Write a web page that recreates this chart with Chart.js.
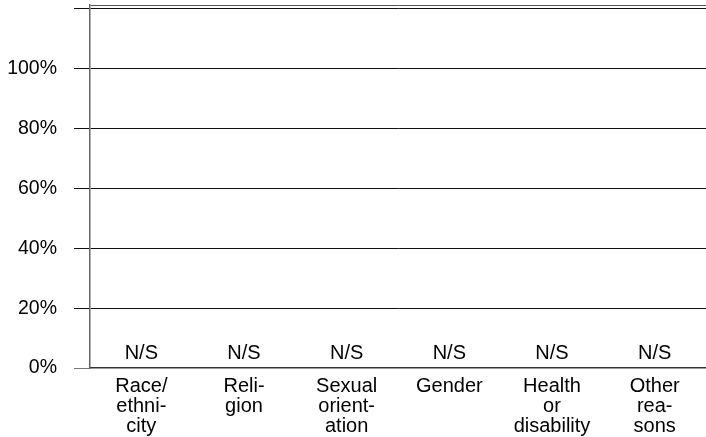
<!DOCTYPE html>
<html>
<head>
<meta charset="utf-8">
<script src="https://cdn.jsdelivr.net/npm/chart.js@4/dist/chart.umd.min.js"></script>
<style>
    html, body { margin: 0; padding: 0; background: #fff; }
    #wrap { width: 706px; height: 437px; position: relative; }
</style>
</head>
<body>
<div id="wrap"><canvas id="chart"></canvas></div>
<script>
// Chart data
const categories = [
    ['Race/', 'ethni-', 'city'],
    ['Reli-', 'gion'],
    ['Sexual', 'orient-', 'ation'],
    ['Gender'],
    ['Health', 'or', 'disability'],
    ['Other', 'rea-', 'sons']
];
const shares = [0, 0, 0, 0, 0, 0];           // no significant values
const shareLabels = ['N/S', 'N/S', 'N/S', 'N/S', 'N/S', 'N/S'];
const yTicks = [0, 20, 40, 60, 80, 100, 120];
const yMax = 121.3;

const FONT = "'Liberation Sans', Arial, sans-serif";

// Draw the N/S text above each (empty) bar
const nsPlugin = {
    id: 'nsLabels',
    afterDatasetsDraw(chart) {
        const ctx = chart.ctx;
        const meta = chart.getDatasetMeta(0);
        ctx.save();
        ctx.font = '20px ' + FONT;
        ctx.fillStyle = '#000';
        ctx.textAlign = 'center';
        ctx.textBaseline = 'alphabetic';
        meta.data.forEach((bar, i) => {
            ctx.fillText(shareLabels[i], bar.x, bar.y - 9);
        });
        ctx.restore();
    }
};

const ctx = document.getElementById('chart').getContext('2d');
new Chart(ctx, {
    type: 'bar',
    data: {
        labels: categories,
        datasets: [{
            data: shares,
            backgroundColor: '#808080',
            borderWidth: 0
        }]
    },
    options: {
        responsive: true,
        maintainAspectRatio: false,
        animation: false,
        layout: { padding: { top: 5, right: 0, bottom: 0, left: 0 } },
        plugins: {
            legend: { display: false },
            tooltip: { enabled: false }
        },
        scales: {
            x: {
                grid: { display: false, drawTicks: false },
                border: { display: true, color: '#333', width: 1.5 },
                ticks: {
                    color: '#000',
                    font: { family: FONT, size: 20, lineHeight: 0.99 },
                    padding: 9,
                    maxRotation: 0,
                    autoSkip: false
                },
                afterFit(scale) {
                    scale.height = 69;
                    scale.paddingLeft = 0;
                    scale.paddingRight = 0;
                }
            },
            y: {
                min: 0,
                max: yMax,
                afterBuildTicks(scale) {
                    scale.ticks = yTicks.concat([yMax]).map(v => ({ value: v }));
                },
                grid: {
                    color: ctx => ctx.tick && ctx.tick.value === 0 ? 'rgba(0,0,0,0)' : (ctx.tick && ctx.tick.value > 120 ? '#555' : '#111'),
                    tickColor: ctx => ctx.tick && ctx.tick.value > 120 ? 'rgba(0,0,0,0)' : (ctx.tick && ctx.tick.value === 0 ? '#777' : '#111'),
                    tickLength: 16,
                    lineWidth: 1
                },
                border: { display: true, color: '#666', width: 1.5 },
                ticks: {
                    color: '#000',
                    font: { family: FONT, size: 19.5 },
                    padding: 17,
                    autoSkip: false,
                    callback: v => v <= 100 ? v + '%' : ''
                },
                afterFit(scale) {
                    scale.width = 90;
                    scale.paddingTop = 0;
                    scale.paddingBottom = 0;
                }
            }
        }
    },
    plugins: [nsPlugin]
});
</script>
</body>
</html>
